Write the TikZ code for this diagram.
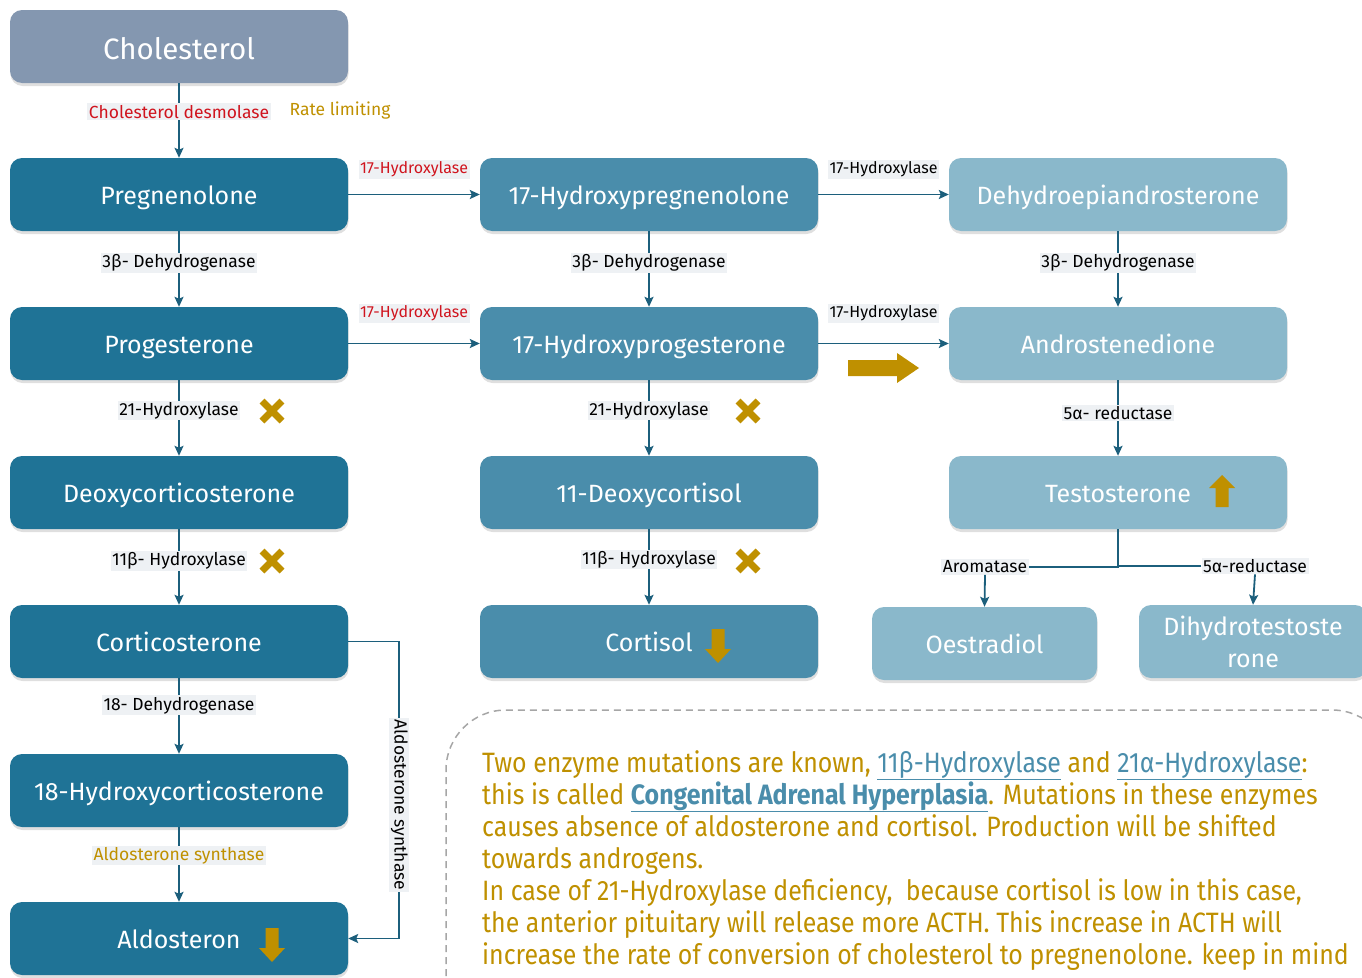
\documentclass[tikz,border=0pt]{standalone}
\usepackage{fontspec}
\setmainfont{Fira Sans}
\newfontfamily\notefont{Fira Sans}[FakeStretch=0.89]
\usepackage{tikz}
\usetikzlibrary{arrows.meta,positioning,calc,shadows}
\definecolor{CholGray}{HTML}{8497B0}
\definecolor{TealDark}{HTML}{1F7396}
\definecolor{TealMid}{HTML}{4A8DAB}
\definecolor{TealLight}{HTML}{8AB8CB}
\definecolor{FlowLine}{HTML}{1C5F7C}
\definecolor{TagFill}{HTML}{EEF1F4}
\definecolor{Gold}{HTML}{BF9000}
\definecolor{EnzRed}{HTML}{D0141E}
\definecolor{DashGray}{HTML}{A6A6A6}

\tikzset{
  hormone/.style={rounded corners=12pt, minimum width=338pt, minimum height=73pt,
    text=white, font=\fontsize{25}{30}\selectfont, text height=19pt, text depth=0pt,
    drop shadow={shadow xshift=0.5pt, shadow yshift=-3pt, opacity=0.25}},
  flow/.style={draw=FlowLine, line width=1.8pt, -{Stealth[length=10pt,width=9pt,inset=2pt]}},
  enz/.style={fill=TagFill, inner sep=1.5pt, text=black, font=\fontsize{17.5}{20}\selectfont},
  side/.style={enz, font=\fontsize{16}{18}\selectfont},
  xmark/.pic={\draw[Gold, line width=7pt] (-10,-10) -- (10,10) (-10,10) -- (10,-10);},
  downblock/.pic={\fill[Gold] (-6.5,-17) -- (6.5,-17) -- (6.5,3) -- (13,3) -- (0,17) -- (-13,3) -- (-6.5,3) -- cycle;},
  upblock/.pic={\fill[Gold] (-6.5,16) -- (6.5,16) -- (6.5,-3) -- (13,-3) -- (0,-16) -- (-13,-3) -- (-6.5,-3) -- cycle;},
  rightblock/.pic={\fill[Gold] (-35,-8) -- (14,-8) -- (14,-15) -- (36,0) -- (14,15) -- (14,8) -- (-35,8) -- cycle;},
}

\begin{document}
\begin{tikzpicture}[x=1pt, y=-1pt]
  \useasboundingbox (0,0) rectangle (1362,977);

  % left column
  \node[hormone, fill=CholGray, font=\fontsize{29.5}{32}\selectfont, text height=25pt] (chol) at (179,46.5) {Cholesterol};
  \node[hormone, fill=TealDark] (preg) at (179,194.5) {Pregnenolone};
  \node[hormone, fill=TealDark] (prog) at (179,343.5) {Progesterone};
  \node[hormone, fill=TealDark] (doc) at (179,492.5) {Deoxycorticosterone};
  \node[hormone, fill=TealDark] (cort) at (179,641.5) {Corticosterone};
  \node[hormone, fill=TealDark] (hcort) at (179,790.5) {18-Hydroxycorticosterone};
  \node[hormone, fill=TealDark] (aldo) at (179,938.5) {Aldosteron};

  % middle column
  \node[hormone, fill=TealMid] (hpreg) at (649,194.5) {17-Hydroxypregnenolone};
  \node[hormone, fill=TealMid] (hprog) at (649,343.5) {17-Hydroxyprogesterone};
  \node[hormone, fill=TealMid] (deoxy) at (649,492.5) {11-Deoxycortisol};
  \node[hormone, fill=TealMid] (cortisol) at (649,641.5) {Cortisol};

  % right column
  \node[hormone, fill=TealLight] (dhea) at (1118,194.5) {Dehydroepiandrosterone};
  \node[hormone, fill=TealLight] (andro) at (1118,343.5) {Androstenedione};
  \node[hormone, fill=TealLight] (testo) at (1118,492.5) {Testosterone};
  \node[hormone, fill=TealLight, minimum width=225pt] (oes) at (984.5,643.5) {Oestradiol};
  \node[hormone, fill=TealLight, minimum width=228pt, align=center, text height={}, text depth={},
    font=\fontsize{25}{32}\selectfont] (dht) at (1253,641.5) {Dihydrotestoste\\rone};

  % vertical steps
  \draw[flow] (chol) -- node[enz, pos=0.38, text=EnzRed] {Cholesterol desmolase} (preg);
  \node[text=Gold, font=\fontsize{17.5}{20}\selectfont] (ratelim) at (340,111) {Rate limiting};
  \draw[flow] (preg) -- node[enz, pos=0.42] {3β- Dehydrogenase} (prog);
  \draw[flow] (prog) -- node[enz, pos=0.4] {21-Hydroxylase} (doc);
  \draw[flow] (doc) -- node[enz, pos=0.42] {11β- Hydroxylase} (cort);
  \draw[flow] (cort) -- node[enz, pos=0.36] {18- Dehydrogenase} (hcort);
  \draw[flow] (hcort) -- node[enz, pos=0.38, text=Gold] {Aldosterone synthase} (aldo);
  \draw[flow] (hpreg) -- node[enz, pos=0.42] {3β- Dehydrogenase} (hprog);
  \draw[flow] (hprog) -- node[enz, pos=0.4] {21-Hydroxylase} (deoxy);
  \draw[flow] (deoxy) -- node[enz, pos=0.4] {11β- Hydroxylase} (cortisol);
  \draw[flow] (dhea) -- node[enz, pos=0.42] {3β- Dehydrogenase} (andro);
  \draw[flow] (andro) -- node[enz, pos=0.43] {5α- reductase} (testo);

  % side steps
  \draw[flow] (preg) -- node[side, above=15pt, text=EnzRed] {17-Hydroxylase} (hpreg);
  \draw[flow] (prog) -- node[side, above=20pt, text=EnzRed] {17-Hydroxylase} (hprog);
  \draw[flow] (hpreg) -- node[side, above=15pt] {17-Hydroxylase} (dhea);
  \draw[flow] (hprog) -- node[side, above=20pt] {17-Hydroxylase} (andro);

  % testosterone branches
  \node[enz] (arom) at (985,567) {Aromatase};
  \node[enz] (fivered) at (1255,566) {5α-reductase};
  \draw[FlowLine, line width=1.8pt] (arom.east) -| (testo.south);
  \draw[FlowLine, line width=1.8pt] (fivered.west) -| (testo.south);
  \draw[flow] (arom.south) -- (oes.north);
  \draw[flow] (fivered.south) -- (dht.north);

  % aldosterone synthase shortcut
  \draw[flow] (cort.east) -- ++(51,0) coordinate (bend)
    -- node[enz, pos=0.55, rotate=-90] {Aldosterone synthase} (bend |- aldo.east) -- (aldo.east);

  % blocked enzymes and hormone levels
  \pic (xa) at (272,411) {xmark};
  \pic (xb) at (748,411) {xmark};
  \pic (xc) at (272,561) {xmark};
  \pic (xd) at (748,561) {xmark};
  \pic (lowaldo) at (272,945) {downblock};
  \pic (lowcortisol) at (718,646) {downblock};
  \pic (hightesto) at (1222,491) {upblock};
  \pic (shift) at (883,368) {rightblock};

  % note
  \draw[DashGray, line width=1.5pt, dash pattern=on 7pt off 5pt, rounded corners=60pt]
    (446,1060) -- (446,710) -- (1392,710) -- (1392,1060);
  \node[anchor=north west, inner sep=0pt, align=left, text=Gold,
    font=\notefont\fontsize{28}{32}\selectfont] (note) at (482,750)
    {Two enzyme mutations are known, \textcolor{TealMid}{\underline{11β-Hydroxylase}} and \textcolor{TealMid}{\underline{21α-Hydroxylase}}:\\
     this is called \textcolor{TealMid}{\underline{\textbf{Congenital Adrenal Hyperplasia}}}. Mutations in these enzymes\\
     causes absence of aldosterone and cortisol. Production will be shifted\\
     towards androgens.\\
     In case of 21-Hydroxylase deficiency,~ because cortisol is low in this case,\\
     the anterior pituitary will release more ACTH. This increase in ACTH will\\
     increase the rate of conversion of cholesterol to pregnenolone. keep in mind};
\end{tikzpicture}
\end{document}
